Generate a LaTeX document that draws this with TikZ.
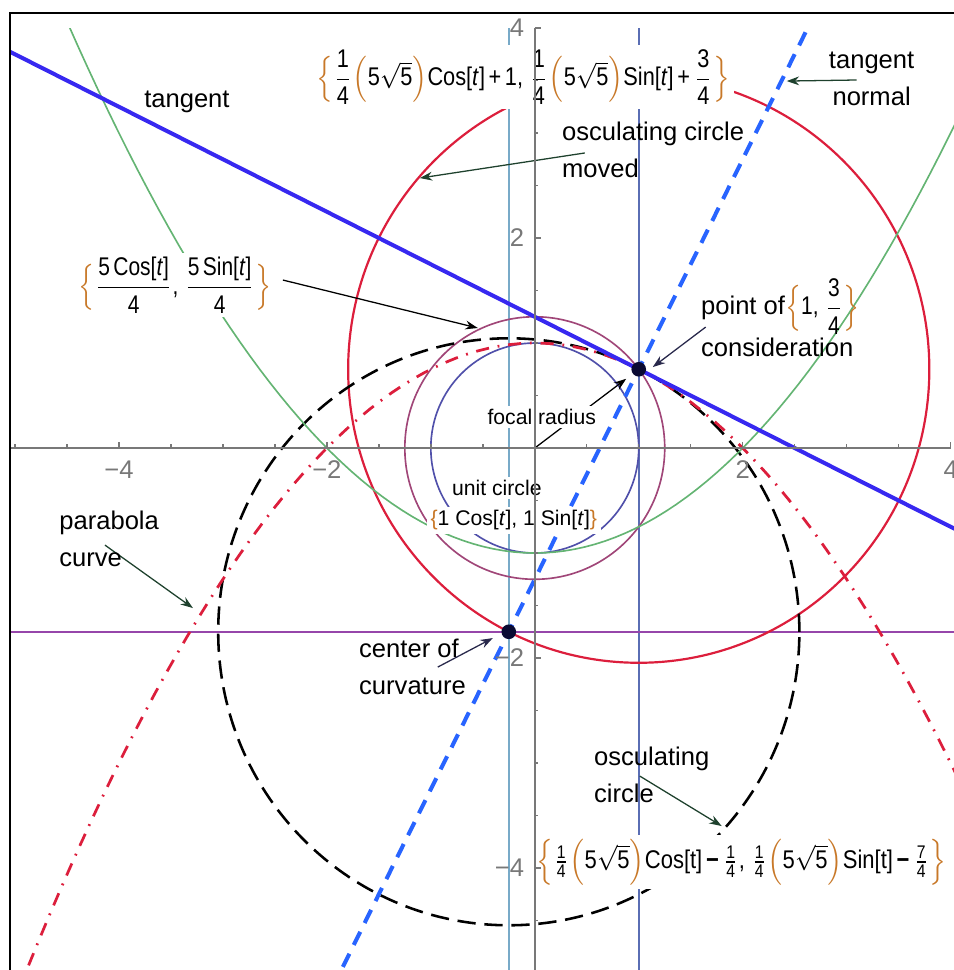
\documentclass[tikz,border=0pt]{standalone}
\usepackage{amsmath}
\usepackage{graphicx}
\usepackage{fontspec}
\setmainfont{Liberation Sans}
\usepackage{xcolor}
\usepackage{tikz}
\usetikzlibrary{arrows.meta}
\definecolor{bleutangente}{RGB}{55,40,240}
\definecolor{bleunormale}{RGB}{40,100,255}
\definecolor{rougecercle}{RGB}{220,30,60}
\definecolor{vertparabole}{RGB}{100,180,115}
\definecolor{bleuunite}{RGB}{80,80,170}
\definecolor{mauvecercle}{RGB}{160,70,120}
\definecolor{bleuciel}{RGB}{120,170,200}
\definecolor{bleuvertical}{RGB}{90,110,180}
\definecolor{violetligne}{RGB}{150,70,170}
\definecolor{orangeaccolade}{RGB}{200,120,40}
\definecolor{vertfleche}{RGB}{30,65,45}
\definecolor{marinefleche}{RGB}{40,40,75}
\definecolor{grisaxe}{RGB}{120,120,120}
\definecolor{marinepoint}{RGB}{10,10,50}
\newcommand{\acc}[1]{\textcolor{orangeaccolade}{#1}}
\newcommand{\qrt}[2]{\dfrac{\text{#1}}{\text{#2}}}
\newcommand{\pqrt}[2]{\tfrac{\text{#1}}{\text{#2}}}
\newcommand{\cinqrac}{\acc{\Bigl(}\text{5}\sqrt{\text{5}}\acc{\Bigr)}}

\begin{document}
\begin{tikzpicture}[x=1cm, y=1.01cm,
    etiq/.style={font=\fontsize{7}{10.1}\selectfont, inner sep=1pt},
    petit/.style={font=\fontsize{5.8}{8.5}\selectfont, inner sep=1pt},
    fond/.style={fill=white},
    axe/.style={grisaxe, line width=0.4pt},
    fleche/.style={-{Stealth[length=3.4pt, width=2.4pt]}, line width=0.35pt}]
    \useasboundingbox (-5.144,-4.971) rectangle (4.029,4.267);
    \coordinate (O) at (0,0);
    \coordinate (P) at (1,0.75);
    \coordinate (C) at (-0.25,-1.75);
    \begin{scope}
      \clip (-5.048,-4.971) rectangle (4.1,4);
      % droites verticales et horizontale
      \draw[bleuciel, line width=0.6pt] (-0.25,-5.2) -- (-0.25,4.1);
      \draw[bleuvertical, line width=0.45pt] (1,-5.2) -- (1,4.1);
      \draw[violetligne, line width=0.45pt] (-5.2,-1.75) -- (4.2,-1.75);
      % cercles
      \draw[bleuunite, line width=0.45pt] (O) circle (1);
      \draw[mauvecercle, line width=0.45pt] (O) circle (1.25);
      \draw[rougecercle, line width=0.6pt] (P) circle (2.7951);
      \draw[line width=0.7pt, dash pattern=on 5pt off 2.4pt] (C) circle (2.7951);
      % paraboles
      \draw[vertparabole, line width=0.45pt, domain=-4.6:4.1, samples=90] plot (\x,{\x*\x/4-1});
      \draw[rougecercle, line width=0.75pt, dash pattern=on 3.6pt off 2.4pt on 0.5pt off 2.4pt,
        domain=-5.1:4.1, samples=90] plot (\x,{1-\x*\x/4});
      % tangente et normale
      \draw[bleutangente, line width=1.1pt] (-5.2,3.85) -- (4.2,-0.85);
      \draw[bleunormale, line width=1.1pt, dash pattern=on 4pt off 2.7pt] (-1.95,-5.15) -- (2.65,4.05);
    \end{scope}
    % points
    \fill[marinepoint] (P) circle (2pt);
    \fill[marinepoint] (C) circle (2pt);
    % flèches
    \coordinate (qmoved) at (0.481,2.810);
    \coordinate (pmoved) at (-1.106,2.571);
    \coordinate (qnorm) at (3.096,3.505);
    \coordinate (pnorm) at (2.423,3.495);
    \coordinate (qcinq) at (-2.423,1.600);
    \coordinate (pcinq) at (-0.548,1.143);
    \coordinate (qpoint) at (1.644,1.152);
    \coordinate (ppoint) at (1.135,0.771);
    \coordinate (qpara) at (-4.135,-0.924);
    \coordinate (ppara) at (-3.288,-1.524);
    \coordinate (qcentre) at (-0.933,-2.086);
    \coordinate (pcentre) at (-0.404,-1.810);
    \coordinate (qosc) at (1.010,-3.124);
    \coordinate (posc) at (1.798,-3.600);
    \draw[fleche, vertfleche] (qmoved) -- (pmoved);
    \draw[fleche, vertfleche] (qnorm) -- (pnorm);
    \draw[fleche, black] (qcinq) -- (pcinq);
    \draw[fleche, marinefleche] (qpoint) -- (ppoint);
    \draw[fleche, vertfleche] (qpara) -- (ppara);
    \draw[fleche, marinefleche] (qcentre) -- (pcentre);
    \draw[fleche, vertfleche] (qosc) -- (posc);
    \draw[fleche, black, shorten >=4.3pt] (O) -- (P);
    % étiquettes
    \node[etiq] (lbltan) at (-3.346,3.295) {tangent};
    \node[etiq, fond] (lblmoved) at (-0.111,3.533)
      {\scalebox{0.85}[1]{$\acc{\Bigl\{}\qrt{1}{4}\cinqrac\text{Cos[\textit{t}]\,+\,1, }\qrt{1}{4}\cinqrac\text{Sin[\textit{t}]\,+\,}\qrt{3}{4}\acc{\Bigr\}}$}};
    \node[etiq, anchor=west, align=left] (lbloscm) at (0.221,2.843) {osculating circle\\moved};
    \node[etiq, align=center] (lblnorm) at (3.240,3.514) {tangent\\normal};
    \node[etiq, fond] (lblcinq) at (-3.462,1.552)
      {\scalebox{0.82}[1]{$\acc{\Bigl\{}\qrt{5\,Cos[\textit{t}]}{4}\text{, }\qrt{5\,Sin[\textit{t}]}{4}\acc{\Bigr\}}$}};
    \node[etiq, anchor=west, align=left] (lblpoint) at (1.558,1.243)
      {point of\scalebox{0.82}[1]{$\acc{\Bigl\{}\text{1, }\qrt{3}{4}\acc{\Bigr\}}$}\\consideration};
    \node[petit, fond] (lblfocal) at (0.067,0.295) {focal radius};
    \node[petit, fond] (lblunit) at (-0.365,-0.381) {unit circle};
    \node[petit, fond] (lblunitf) at (-0.202,-0.686)
      {\acc{\{}1 Cos[\textit{t}], 1 Sin[\textit{t}]\acc{\}}};
    \node[etiq, anchor=west, align=left] (lblpara) at (-4.615,-0.862) {parabola\\curve};
    \node[etiq, anchor=west, align=left] (lblcentre) at (-1.731,-2.081) {center of\\curvature};
    \node[etiq, anchor=west, align=left] (lblosc) at (0.529,-3.110) {osculating\\circle};
    \node[etiq, fond] (lblosf) at (1.986,-3.943)
      {\scalebox{0.86}[1]{$\acc{\Bigl\{}\pqrt{1}{4}\cinqrac\text{Cos[t]\,\textbf{−}\,}\pqrt{1}{4}\text{, }\pqrt{1}{4}\cinqrac\text{Sin[t]\,\textbf{−}\,}\pqrt{7}{4}\acc{\Bigr\}}$}};
    % axes
    \draw[axe] (-5.048,0) -- (4,0);
    \draw[axe] (0,-5.1) -- (0,4);
    \foreach \t in {-5,-4.5,...,4}{
      \draw[axe] (\t,0) -- (\t,0.035);
    }
    \foreach \t in {-4.5,-4,...,4}{
      \draw[axe] (0,\t) -- (0.035,\t);
    }
    \foreach \t/\n in {-4/−4,-2/−2,2/2,4/4}{
      \draw[axe] (\t,0) -- (\t,0.06);
      \draw[axe] (0,\t) -- (0.06,\t);
      \node[etiq, text=grisaxe] (tx\t) at (\t,-0.205) {\n};
      \node[etiq, text=grisaxe, anchor=east] (ty\t) at (-0.06,\t) {\n};
    }
    % cadre
    \draw[line width=0.8pt] (-5.048,-5.1) -- (-5.048,4.143) -- (4.2,4.143);
  \end{tikzpicture}
\end{document}
